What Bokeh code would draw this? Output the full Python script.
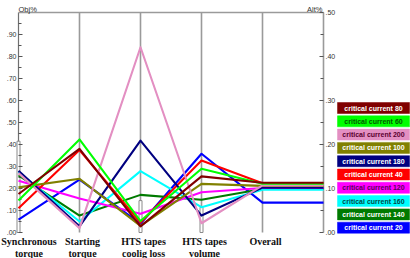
from bokeh.plotting import figure
from bokeh.models import Range1d, ColumnDataSource
from bokeh.core.properties import value
from bokeh.embed import file_html
from bokeh.resources import INLINE
import math

# ---------------- data ----------------
axis_labels = ["Synchronous\ntorque", "Starting\ntorque", "HTS tapes\ncoolig loss",
               "HTS tapes\nvolume", "Overall"]
series_names = ["critical current 80", "critical current 60", "critical current 200",
                "critical current 100", "critical current 180", "critical current 40",
                "critical current 120", "critical current 160", "critical current 140",
                "critical current 20"]
series_colors = ["#800000", "#00ff00", "#e38fc2", "#808000", "#000080",
                 "#ff0000", "#ff00ff", "#00ffff", "#007a00", "#0000ff"]
legend_text_colors = ["#ffffff", "#005a00", "#5a0030", "#ffffff", "#ffffff",
                      "#ffffff", "#5a005a", "#004848", "#ffffff", "#ffffff"]
# objective values (Obj% axis, 0..1)
synchronous_torque = [0.175, 0.145, 0.270, 0.205, 0.280, 0.110, 0.235, 0.275, 0.260, 0.058]
starting_torque    = [0.380, 0.423, 0.020, 0.244, 0.028, 0.375, 0.155, 0.050, 0.077, 0.240]
cooling_loss       = [0.028, 0.052, 0.842, 0.030, 0.418, 0.045, 0.085, 0.279, 0.171, 0.040]
tapes_volume       = [0.255, 0.290, 0.042, 0.221, 0.077, 0.327, 0.183, 0.115, 0.149, 0.358]
# overall values (Alt% axis, 0..0.5)
overall = [0.113, 0.111, 0.107, 0.106, 0.102, 0.112, 0.101, 0.097, 0.099, 0.068]

obj_ticks = [0.0, 0.1, 0.2, 0.3, 0.4, 0.5, 0.6, 0.7, 0.8, 0.9]
obj_tick_labels = [".00", ".10", ".20", ".30", ".40", ".50", ".60", ".70", ".80", ".90"]
obj_minor = [0.05, 0.15, 0.25, 0.35, 0.45, 0.55, 0.65, 0.75, 0.85, 0.95]
alt_ticks = [0.0, 0.1, 0.2, 0.3, 0.4, 0.5]
alt_tick_labels = [".00", ".10", ".20", ".30", ".40", ".50"]
alt_minor = [0.05, 0.15, 0.25, 0.35, 0.45]

# brush handles on axes (axis index, low, high) in Obj units
brush_axis = [0, 2, 2, 3]
brush_low = [0.0, 0.0, 0.085, 0.0]
brush_high = [0.415, 0.085, 0.145, 0.115]

OBJ_MAX = 1.0
ALT_MAX = 0.5
alt_to_obj = OBJ_MAX / ALT_MAX

# ---------------- layout ----------------
W, H = 410, 258
X0, DX = 18, 61          # pixel of first axis, pixel spacing of axes
Y0, YTOP = 232, 12       # pixel of 0 and of max
x_start = -X0 / DX
x_end = (W - X0) / DX
ppu = (Y0 - YTOP) / OBJ_MAX
y_start = -(H - Y0) / ppu
y_end = OBJ_MAX + YTOP / ppu

def px_x(px):
    return x_start + px / W * (x_end - x_start)

def px_y(py):
    return y_end - py / H * (y_end - y_start)

p = figure(width=W, height=H, x_range=Range1d(x_start, x_end), y_range=Range1d(y_start, y_end),
           output_backend="svg", toolbar_location=None, x_axis_type=None, y_axis_type=None,
           min_border=0, outline_line_color=None, background_fill_color="white")
p.grid.visible = False
p.extra_y_ranges = {"alt": Range1d(y_start / alt_to_obj, y_end / alt_to_obj)}

n_axes = len(axis_labels)
AX_COL = "#9a9a9a"

# axis lines
p.segment(x0=list(range(1, n_axes + 1)), y0=[0.0] * n_axes, x1=list(range(1, n_axes + 1)),
          y1=[OBJ_MAX] * n_axes, line_color=AX_COL, line_width=1.6)
p.segment(x0=[0], y0=[0.0], x1=[0], y1=[OBJ_MAX], line_color="#707070", line_width=1.2)
p.segment(x0=[0], y0=[OBJ_MAX], x1=[n_axes], y1=[OBJ_MAX], line_color=AX_COL, line_width=1.6)

# brush handles
p.rect(x=brush_axis, y=[(a + b) / 2 for a, b in zip(brush_low, brush_high)], width=3,
       width_units="screen", height=[b - a for a, b in zip(brush_low, brush_high)],
       fill_color="white", line_color="#8a8a8a", line_width=1)

# ticks
p.ray(x=[0] * len(obj_ticks), y=obj_ticks, length=4, length_units="screen", angle=0,
      line_color="#555555", line_width=1)
p.ray(x=[0] * len(obj_minor), y=obj_minor, length=3, length_units="screen", angle=0,
      line_color="#555555", line_width=1)
p.ray(x=[n_axes] * len(alt_ticks), y=alt_ticks, y_range_name="alt", length=4,
      length_units="screen", angle=math.pi, line_color="#555555", line_width=1)
p.ray(x=[n_axes] * len(alt_minor), y=alt_minor, y_range_name="alt", length=3,
      length_units="screen", angle=math.pi, line_color="#555555", line_width=1)

# tick labels
p.text(x=[0] * len(obj_ticks), y=obj_ticks, text=obj_tick_labels, x_offset=-2,
       text_align="right", text_baseline="middle", text_font=value("Liberation Sans"),
       text_font_size="7px", text_color="#333333")
p.text(x=[n_axes] * len(alt_ticks), y=alt_ticks, y_range_name="alt", text=alt_tick_labels,
       x_offset=2, text_align="left", text_baseline="middle",
       text_font=value("Liberation Sans"), text_font_size="7px", text_color="#333333")
p.text(x=[0], y=[OBJ_MAX], text=["Obj%"], y_offset=1, text_align="left",
       text_baseline="bottom", text_font=value("Liberation Sans"), text_font_size="7.5px",
       text_color="#333333")
p.text(x=[n_axes], y=[OBJ_MAX], text=["Alt%"], x_offset=-1, y_offset=1, text_align="right",
       text_baseline="bottom", text_font=value("Liberation Sans"), text_font_size="7.5px",
       text_color="#333333")

# category labels
label_offsets = [10.5] + [3] * (n_axes - 1)
p.text(x=list(range(n_axes)), y=[0.0] * n_axes, text=axis_labels, x_offset=label_offsets,
       y_offset=3, text_align="center", text_baseline="top",
       text_font=value("Liberation Serif"), text_font_style="bold", text_font_size="10px",
       text_color="#111111", text_line_height=1.1)

# series lines (drawn bottom-of-legend first)
for i in reversed(range(len(series_names))):
    ys = [synchronous_torque[i], starting_torque[i], cooling_loss[i], tapes_volume[i],
          overall[i] * alt_to_obj, overall[i] * alt_to_obj]
    xs = list(range(n_axes + 1))
    p.line(xs, ys, line_color=series_colors[i], line_width=2.1, line_join="round")

# legend boxes
LX0, LX1 = 337, 409
LTOP, LSTEP, LH = 102, 13.3, 11
lx = px_x((LX0 + LX1) / 2)
lw = (LX1 - LX0) / W * (x_end - x_start)
lh = LH / H * (y_end - y_start)
ly = [px_y(LTOP + LH / 2 + k * LSTEP) for k in range(len(series_names))]
src = ColumnDataSource(dict(x=[lx] * len(series_names), y=ly, name=series_names,
                            fill=series_colors, tc=legend_text_colors))
p.rect(x="x", y="y", width=lw, height=lh, source=src, fill_color="fill", line_color="fill",
       line_width=0.5)
p.text(x="x", y="y", text="name", source=src, text_color="tc", text_align="center",
       text_baseline="middle", text_font=value("Liberation Sans"), text_font_style="bold",
       text_font_size="7px")

open("out.html", "w").write(file_html(p, INLINE))
